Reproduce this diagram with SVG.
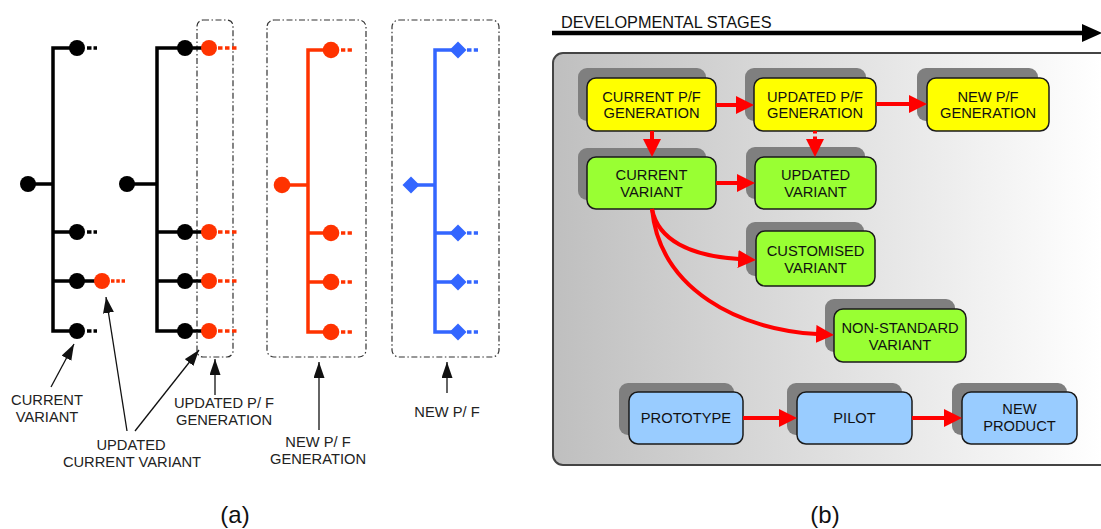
<svg xmlns="http://www.w3.org/2000/svg" width="1101" height="529" viewBox="0 0 1101 529">
<style>
.lbl{font-family:"Liberation Sans",Arial,sans-serif;font-size:14.7px;fill:#222;text-anchor:middle}
.cap{font-family:"Liberation Sans",Arial,sans-serif;font-size:24px;fill:#111;text-anchor:middle}
.t{font-family:"Liberation Sans",Arial,sans-serif;font-size:14.7px;fill:#111;text-anchor:middle}
.sh{fill:#7f7f7f}
.nb{stroke:#1a1a1a;stroke-width:1.5}
.y{fill:#ffff00}.g{fill:#99ff33}.b{fill:#99ccff}
.frame{fill:none;stroke:#333;stroke-width:1.2;stroke-dasharray:6 2.5 1.5 2.5}
.blk{stroke:#000;stroke-width:3.5;fill:none}
.red{stroke:#ff3300;stroke-width:3.5;fill:none}
.blu{stroke:#3366ff;stroke-width:3.5;fill:none}
.ptr{stroke:#111;stroke-width:1.3;fill:none;marker-end:url(#ah)}
.rc{stroke:#ff0000;stroke-width:4;fill:none;marker-end:url(#rh)}
</style>
<defs>
<marker id="ah" markerUnits="userSpaceOnUse" markerWidth="17" markerHeight="12" refX="16" refY="5.5" orient="auto"><path d="M0,0 L16,5.5 L0,11 z" fill="#111"/></marker>
<marker id="rh" markerUnits="userSpaceOnUse" markerWidth="19" markerHeight="18" refX="1" refY="9" orient="auto"><path d="M0,0 L18,9 L0,18 z" fill="#ff0000"/></marker>
<linearGradient id="pg" gradientUnits="userSpaceOnUse" x1="553" y1="0" x2="1101" y2="0"><stop offset="0" stop-color="#bfbfbf"/><stop offset="1" stop-color="#ffffff"/></linearGradient>
</defs>

<!-- (a) -->
<g id="tree-current">
<path class="blk" d="M77,48 H53 V331 H77 M53,232 H77 M53,281 H102 M28,184 H53"/>
<g fill="#000"><circle cx="77" cy="48" r="8"/><circle cx="28" cy="184" r="8"/><circle cx="77" cy="232" r="8"/><circle cx="77" cy="281" r="8"/><circle cx="77" cy="331" r="8"/></g>
<circle cx="102" cy="281" r="8" fill="#ff3300"/>
<path d="M87,48 H97 M87,232 H97 M87,331 H97" stroke="#000" stroke-width="3.5" stroke-dasharray="4.5 2"/>
<path d="M111,281 H125" stroke="#ff3300" stroke-width="3.5" stroke-dasharray="3.5 1.8"/>
</g>
<g id="tree-updated">
<rect class="frame" x="197" y="20" width="36" height="337" rx="6"/>
<path class="blk" d="M209,48 H157 V331 H209 M157,232 H209 M157,281 H209 M127,184 H157"/>
<g fill="#000"><circle cx="185" cy="48" r="8"/><circle cx="127" cy="184" r="8"/><circle cx="185" cy="232" r="8"/><circle cx="185" cy="281" r="8"/><circle cx="185" cy="331" r="8"/></g>
<g fill="#ff3300"><circle cx="209" cy="48" r="8"/><circle cx="209" cy="232" r="8"/><circle cx="209" cy="281" r="8"/><circle cx="209" cy="331" r="8"/></g>
<path d="M218,48 H238 M218,232 H238 M218,281 H238 M218,331 H238" stroke="#ff3300" stroke-width="3.5" stroke-dasharray="4.5 2.5"/>
</g>
<g id="tree-newgen">
<rect class="frame" x="267" y="20" width="99" height="337" rx="7"/>
<path class="red" d="M331,50 H308 V332 H331 M308,233 H331 M308,282 H331 M282,185 H308"/>
<g fill="#ff3300"><circle cx="331" cy="50" r="8.3"/><circle cx="282" cy="185" r="8.3"/><circle cx="331" cy="233" r="8.3"/><circle cx="331" cy="282" r="8.3"/><circle cx="331" cy="332" r="8.3"/></g>
<path d="M341,50 H352 M341,233 H352 M341,282 H352 M341,332 H352" stroke="#ff3300" stroke-width="3.5" stroke-dasharray="4.3 2.3"/>
</g>
<g id="tree-new">
<rect class="frame" x="392" y="20" width="107" height="337" rx="7"/>
<path class="blu" d="M458,50 H435 V332 H458 M435,233 H458 M435,282 H458 M411,185 H435"/>
<g fill="#3366ff"><path d="M458,41.5 L466.5,50 L458,58.5 L449.5,50 z"/><path d="M411,176.5 L419.5,185 L411,193.5 L402.5,185 z"/><path d="M458,224.5 L466.5,233 L458,241.5 L449.5,233 z"/><path d="M458,273.5 L466.5,282 L458,290.5 L449.5,282 z"/><path d="M458,323.5 L466.5,332 L458,340.5 L449.5,332 z"/></g>
<path d="M467,50 H478 M467,233 H478 M467,282 H478 M467,332 H478" stroke="#3366ff" stroke-width="3.5" stroke-dasharray="4.5 2.3"/>
</g>
<g id="labels-a">
<text class="lbl" x="47" y="405">CURRENT</text><text class="lbl" x="47" y="422">VARIANT</text>
<text class="lbl" x="131" y="450">UPDATED</text><text class="lbl" x="132" y="467">CURRENT VARIANT</text>
<text class="lbl" x="224" y="408">UPDATED P/ F</text><text class="lbl" x="224" y="425">GENERATION</text>
<text class="lbl" x="318" y="447">NEW P/ F</text><text class="lbl" x="318" y="464">GENERATION</text>
<text class="lbl" x="447" y="417">NEW P/ F</text>
<text class="cap" x="235" y="523">(a)</text>
</g>
<g id="pointers-a">
<path class="ptr" d="M51,387 L74,344"/>
<path class="ptr" d="M127,431 L106,297"/>
<path class="ptr" d="M135,431 L199,350"/>
<path class="ptr" d="M215,395 L215,359"/>
<path class="ptr" d="M319,430 L319,362"/>
<path class="ptr" d="M447,393 L447,362"/>
</g>

<!-- (b) -->
<g id="stages-axis">
<text x="561" y="28" font-family="Liberation Sans, Arial, sans-serif" font-size="16.3" fill="#111">DEVELOPMENTAL STAGES</text>
<line x1="552" y1="33" x2="1084" y2="33" stroke="#000" stroke-width="4.5"/>
<path d="M1082,24 L1102,33 L1082,42 z" fill="#000"/>
</g>
<rect id="panel" x="553" y="53" width="570" height="412" rx="10" fill="url(#pg)" stroke="#444" stroke-width="2"/>

<g id="n-current-pf"><rect class="sh" x="578" y="68" width="128" height="53" rx="9"/><rect class="y nb" x="587" y="78" width="129" height="53" rx="9"/><text class="t" x="651.5" y="102">CURRENT P/F</text><text class="t" x="651.5" y="118">GENERATION</text></g>
<g id="n-updated-pf"><rect class="sh" x="745" y="68" width="121" height="53" rx="9"/><rect class="y nb" x="754" y="78" width="122" height="53" rx="9"/><text class="t" x="815" y="102">UPDATED P/F</text><text class="t" x="815" y="118">GENERATION</text></g>
<g id="n-new-pf"><rect class="sh" x="917" y="68" width="121" height="53" rx="9"/><rect class="y nb" x="927" y="78" width="122" height="53" rx="9"/><text class="t" x="988" y="102">NEW P/F</text><text class="t" x="988" y="118">GENERATION</text></g>
<g id="n-current-variant"><rect class="sh" x="578" y="148" width="128" height="52" rx="9"/><rect class="g nb" x="587" y="157" width="129" height="52" rx="9"/><text class="t" x="651.5" y="180">CURRENT</text><text class="t" x="651.5" y="197">VARIANT</text></g>
<g id="n-updated-variant"><rect class="sh" x="746" y="147" width="119" height="52" rx="9"/><rect class="g nb" x="755" y="157" width="121" height="52" rx="9"/><text class="t" x="815.5" y="180">UPDATED</text><text class="t" x="815.5" y="197">VARIANT</text></g>
<g id="n-customised"><rect class="sh" x="746" y="222" width="118" height="54" rx="9"/><rect class="g nb" x="756" y="231" width="119" height="55" rx="9"/><text class="t" x="815.5" y="256">CUSTOMISED</text><text class="t" x="815.5" y="273">VARIANT</text></g>
<g id="n-nonstandard"><rect class="sh" x="825" y="299" width="130" height="53" rx="9"/><rect class="g nb" x="834" y="309" width="132" height="53" rx="9"/><text class="t" x="900" y="333">NON-STANDARD</text><text class="t" x="900" y="350">VARIANT</text></g>
<g id="n-prototype"><rect class="sh" x="619" y="383" width="115" height="52" rx="9"/><rect class="b nb" x="629" y="392" width="114" height="52" rx="9"/><text class="t" x="686" y="423">PROTOTYPE</text></g>
<g id="n-pilot"><rect class="sh" x="787" y="383" width="115" height="52" rx="9"/><rect class="b nb" x="797" y="392" width="115" height="52" rx="9"/><text class="t" x="854.5" y="423">PILOT</text></g>
<g id="n-new-product"><rect class="sh" x="952" y="383" width="115" height="52" rx="9"/><rect class="b nb" x="962" y="392" width="115" height="52" rx="9"/><text class="t" x="1019.5" y="414">NEW</text><text class="t" x="1019.5" y="431">PRODUCT</text></g>

<g id="connectors-b">
<path class="rc" d="M716,105 H737"/>
<path class="rc" d="M876,104 H910"/>
<path class="rc" d="M652,131 V140"/>
<path class="rc" d="M815,131 V140" stroke-width="3" stroke-dasharray="2.5 3"/>
<path class="rc" d="M716,183 H738"/>
<path class="rc" d="M652,209 C658,240 690,256 739,259"/>
<path class="rc" d="M652,209 C660,290 740,330 817,334"/>
<path class="rc" d="M743,418 H780"/>
<path class="rc" d="M912,418 H945"/>
</g>
<text class="cap" x="825" y="523">(b)</text>
</svg>
